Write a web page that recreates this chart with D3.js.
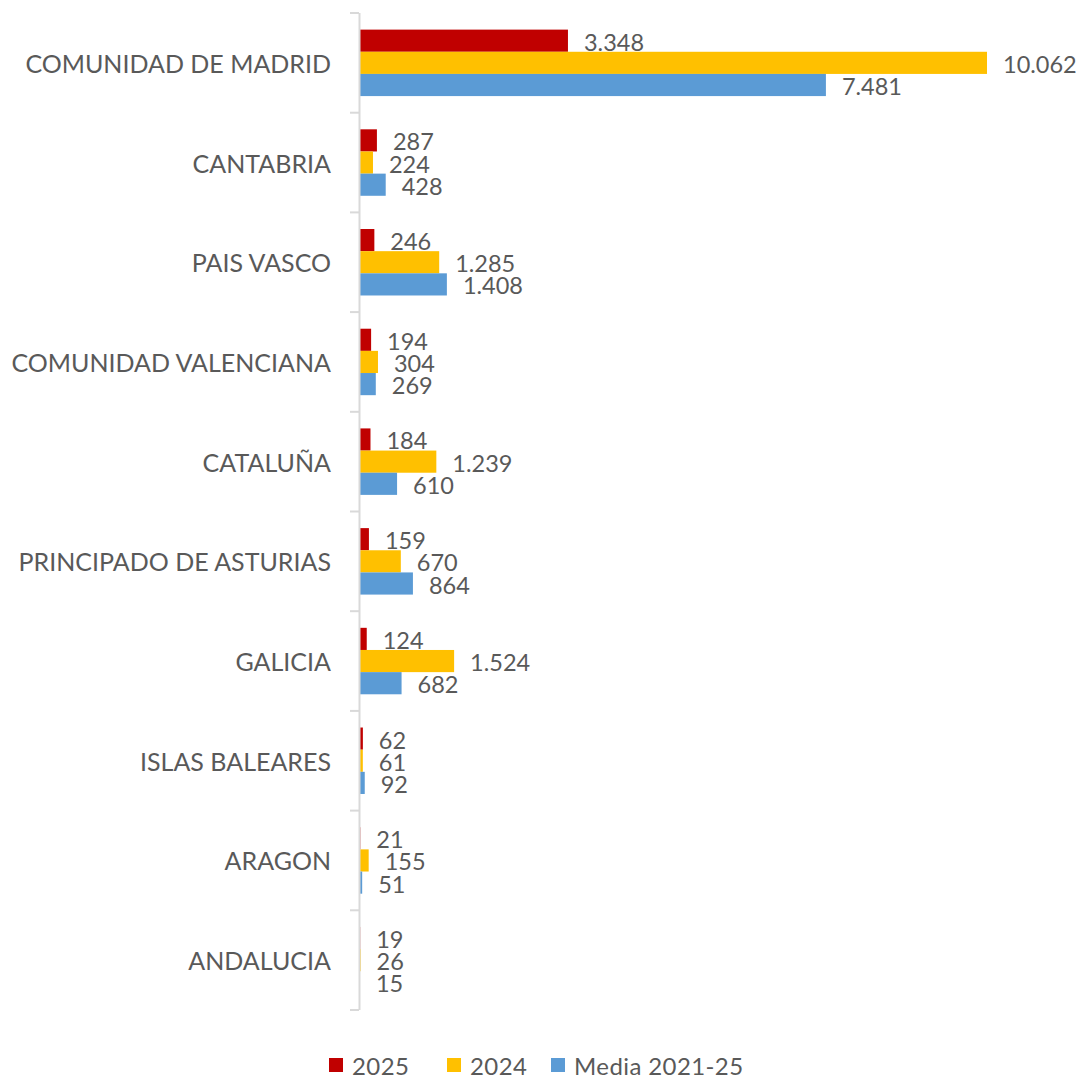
<!DOCTYPE html>
<html>
<head>
<meta charset="utf-8">
<script src="https://cdn.jsdelivr.net/npm/d3@7"></script>
<style>
  body { margin: 0; background: #fff; }
  text { font-family: Lato, "Open Sans", sans-serif; fill: #595959; }
</style>
</head>
<body>
<svg id="chart" width="1081" height="1079"></svg>
<script>
// datos
var regiones = ["COMUNIDAD DE MADRID", "CANTABRIA", "PAIS VASCO", "COMUNIDAD VALENCIANA",
  "CATALUÑA", "PRINCIPADO DE ASTURIAS", "GALICIA", "ISLAS BALEARES", "ARAGON", "ANDALUCIA"];
var series = ["2025", "2024", "Media 2021-25"];
var v2025  = [3348, 287, 246, 194, 184, 159, 124, 62, 21, 19];
var v2024  = [10062, 224, 1285, 304, 1239, 670, 1524, 61, 155, 26];
var vMedia = [7481, 428, 1408, 269, 610, 864, 682, 92, 51, 15];
var colores = ["#C00000", "#FFC000", "#5B9BD5"];

var valores = [v2025, v2024, vMedia];

var locale = d3.formatLocale({ decimal: ",", thousands: ".", grouping: [3], currency: ["", "€"] });
var fmt = locale.format(",d");

var svg = d3.select("#chart");
var x0 = 359;

var x = d3.scaleLinear()
    .domain([0, d3.max(v2024)])
    .range([0, 628]);

var y = d3.scaleBand()
    .domain(regiones)
    .range([13, 1010])
    .padding(0);

var yInner = d3.scaleBand()
    .domain(series)
    .range([0, y.bandwidth()])
    .paddingInner(0)
    .paddingOuter(0.75);

var color = d3.scaleOrdinal().domain(series).range(colores);

// barras
var grupos = svg.selectAll(".region")
    .data(regiones)
  .enter().append("g")
    .attr("class", "region")
    .attr("transform", function(d) { return "translate(" + x0 + "," + y(d) + ")"; });

grupos.each(function(r, i) {
  var g = d3.select(this);
  var filas = series.map(function(s, k) { return { serie: s, valor: valores[k][i] }; });

  g.selectAll("rect")
      .data(filas)
    .enter().append("rect")
      .attr("x", 0)
      .attr("y", function(d) { return yInner(d.serie); })
      .attr("width", function(d) { return x(d.valor); })
      .attr("height", yInner.bandwidth())
      .attr("fill", function(d) { return color(d.serie); });

  g.selectAll("text.valor")
      .data(filas)
    .enter().append("text")
      .attr("class", "valor")
      .attr("x", function(d) { return x(d.valor) + 16; })
      .attr("y", function(d) { return yInner(d.serie) + yInner.bandwidth() / 2 + 1; })
      .attr("dominant-baseline", "central")
      .attr("font-size", 23.5)
      .text(function(d) { return fmt(d.valor); });
});

// eje vertical
var eje = svg.append("g").attr("stroke", "#D9D9D9").attr("stroke-width", 2);
eje.append("line")
    .attr("x1", x0 + 0.5).attr("x2", x0 + 0.5)
    .attr("y1", y.range()[0]).attr("y2", y.range()[1]);
var cortes = regiones.map(function(r) { return y(r); }).concat([y.range()[1]]);
eje.selectAll(".tick")
    .data(cortes)
  .enter().append("line")
    .attr("x1", x0 - 9).attr("x2", x0)
    .attr("y1", function(d) { return d; }).attr("y2", function(d) { return d; });

// etiquetas de categorias
svg.selectAll(".cat")
    .data(regiones)
  .enter().append("text")
    .attr("class", "cat")
    .attr("x", 331)
    .attr("y", function(d) { return y(d) + y.bandwidth() / 2; })
    .attr("text-anchor", "end")
    .attr("dominant-baseline", "central")
    .attr("font-size", 25)
    .text(function(d) { return d; });

// leyenda
var leyX = [329, 447, 551];
var leyenda = svg.selectAll(".ley")
    .data(series)
  .enter().append("g")
    .attr("class", "ley")
    .attr("transform", function(d, i) { return "translate(" + leyX[i] + ",1058)"; });
leyenda.append("rect")
    .attr("width", 14).attr("height", 14)
    .attr("fill", function(d) { return color(d); });
leyenda.append("text")
    .attr("x", 23)
    .attr("y", 7)
    .attr("dominant-baseline", "central")
    .attr("font-size", 24)
    .attr("letter-spacing", 0.4)
    .text(function(d) { return d; });
</script>
</body>
</html>
